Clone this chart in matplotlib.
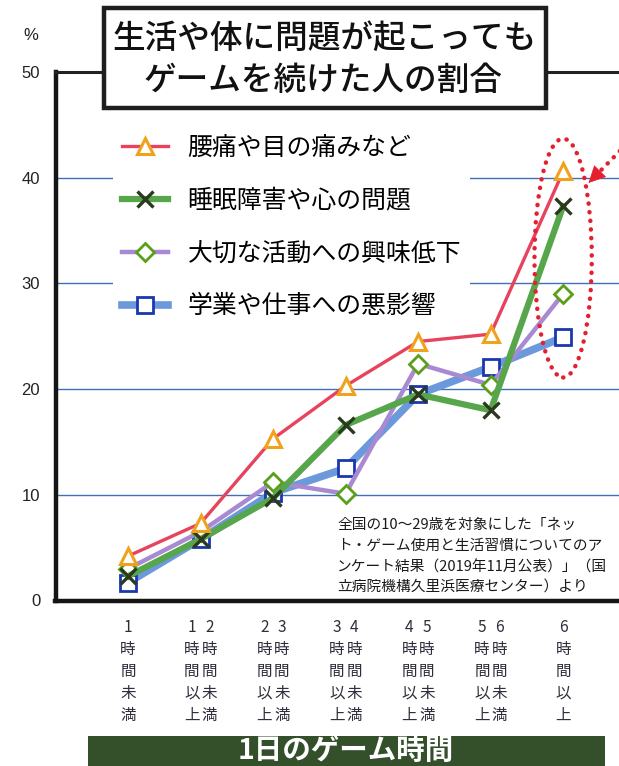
import matplotlib
matplotlib.use("Agg")
import matplotlib.pyplot as plt
from matplotlib.patches import Rectangle, Ellipse
from matplotlib.transforms import blended_transform_factory
import numpy as np

plt.rcParams['font.family'] = ['Noto Sans CJK JP', 'DejaVu Sans']

# ---------------- data ----------------
categories = ['1時間未満', '1-2時間', '2-3時間', '3-4時間', '4-5時間', '5-6時間', '6時間以上']
tick_columns = [
    ['1時間未満'],
    ['1時間以上', '2時間未満'],
    ['2時間以上', '3時間未満'],
    ['3時間以上', '4時間未満'],
    ['4時間以上', '5時間未満'],
    ['5時間以上', '6時間未満'],
    ['6時間以上'],
]
series_names = ['腰痛や目の痛みなど', '睡眠障害や心の問題', '大切な活動への興味低下', '学業や仕事への悪影響']
back_eye = [4.2, 7.3, 15.3, 20.3, 24.5, 25.2, 40.6]
sleep_mind = [2.3, 5.8, 9.7, 16.6, 19.5, 18.0, 37.3]
interest = [3.0, 6.5, 11.2, 10.1, 22.4, 20.4, 29.0]
work_study = [1.7, 5.8, 10.2, 12.5, 19.5, 22.1, 24.9]
y_ticks = [0, 10, 20, 30, 40, 50]

title_lines = ['生活や体に問題が起こっても', 'ゲームを続けた人の割合']
x_title = '1日のゲーム時間'
source_lines = ['全国の10～29歳を対象にした「ネッ',
                'ト・ゲーム使用と生活習慣についてのア',
                'ンケート結果（2019年11月公表）」（国',
                '立病院機構久里浜医療センター）より']

# ---------------- figure ----------------
W, H = 619, 766
fig = plt.figure(figsize=(W / 100, H / 100), dpi=100)
fig.patch.set_facecolor('white')

def fx(px):
    return px / W

def fy(py):
    return 1 - py / H

ax_left, ax_right, ax_top, ax_bot = 55.5, 640, 72, 600.5
ax = fig.add_axes([fx(ax_left), fy(ax_bot), fx(ax_right - ax_left), (ax_bot - ax_top) / H])
x = np.arange(len(categories))
ax.set_xlim(-1.0, 7.06)
ax.set_ylim(0, 50)

ax.set_yticks(y_ticks)
ax.set_yticklabels([str(v) for v in y_ticks], fontsize=12, color='#222222',
                   family=['Liberation Sans'])
ax.tick_params(axis='y', length=0, pad=11)
ax.set_xticks([])
ax.yaxis.grid(True, color='#3f70b8', lw=1.0)
ax.set_axisbelow(True)
for gl, v in zip(ax.yaxis.get_gridlines(), y_ticks):
    if v in (0, 50):
        gl.set_visible(False)

for s in ['left', 'bottom']:
    ax.spines[s].set_linewidth(3.2)
    ax.spines[s].set_color('#151515')
ax.spines['top'].set_linewidth(2.2)
ax.spines['top'].set_color('#222222')
ax.spines['right'].set_visible(False)

# series
l_work, = ax.plot(x, work_study, color='#6c98dc', lw=5.5, marker='s', ms=11,
                  mfc='white', mec='#1a37b0', mew=2.0, zorder=3, label=series_names[3])
l_int, = ax.plot(x, interest, color='#a98ad2', lw=3.2, marker='D', ms=9,
                 mfc='white', mec='#5a9e1a', mew=2.0, zorder=4, label=series_names[2])
l_sleep, = ax.plot(x, sleep_mind, color='#58a64c', lw=4.5, marker='x', ms=11,
                   mec='#2b3a1f', mew=2.4, zorder=5, label=series_names[1])
l_back, = ax.plot(x, back_eye, color='#e8435c', lw=2.4, marker='^', ms=12,
                  mfc='white', mec='#f0a21c', mew=2.2, zorder=6, label=series_names[0])

leg = ax.legend(handles=[l_back, l_sleep, l_int, l_work], loc='upper left',
                bbox_to_anchor=(fx(113), fy(126)), bbox_transform=fig.transFigure,
                fontsize=17.9, handlelength=1.85, handletextpad=0.8, labelspacing=1.08,
                borderpad=0.35, borderaxespad=0, numpoints=1, frameon=True,
                fancybox=False, framealpha=1)
leg.get_frame().set_facecolor('white')
leg.get_frame().set_edgecolor('none')
leg.set_zorder(10)

# highlight ellipse + arrow
red = '#e4202f'
ell = Ellipse((6.0, 32.4), width=0.79, height=22.6, fill=False, edgecolor=red,
              lw=3.2, linestyle=(0, (0.05, 1.9)), zorder=7, clip_on=False)
ell.set_capstyle('round')
ax.add_patch(ell)
ax.annotate('', xy=(6.35, 39.5), xytext=(6.95, 43.7),
            arrowprops=dict(arrowstyle='-', color=red, lw=3.2, linestyle=(0, (0.05, 1.9)),
                            capstyle='round', shrinkA=0, shrinkB=8),
            annotation_clip=False, zorder=7)
ax.annotate('', xy=(6.35, 39.5), xytext=(6.55, 40.9),
            arrowprops=dict(arrowstyle='-|>', color=red, lw=0.5, mutation_scale=28,
                            shrinkA=0, shrinkB=0),
            annotation_clip=False, zorder=7)

# x tick labels (vertical columns)
trans = blended_transform_factory(ax.transData, fig.transFigure)
col_off = 0.12
for xi, cols in zip(x, tick_columns):
    if len(cols) == 1:
        offs = [0]
    else:
        offs = [-col_off, col_off]
    for o, col in zip(offs, cols):
        ax.text(xi + o, fy(619), '\n'.join(list(col)), transform=trans, ha='center',
                va='top', multialignment='center', fontsize=11.2, color='#2e2e3c',
                linespacing=1.38, clip_on=False)

# y unit
fig.text(fx(31), fy(35), '%', fontsize=12, ha='center', va='center', color='#222222',
         family=['Liberation Sans'])

# title box
fig.add_artist(Rectangle((fx(104), fy(108)), fx(546 - 104), (108 - 8) / H,
                         transform=fig.transFigure, facecolor='white',
                         edgecolor='#1e1e1e', lw=3.2, zorder=20))
fig.text(fx(325), fy(38), title_lines[0], fontsize=23.5, ha='center', va='center',
         color='#111111', weight='medium', zorder=21)
fig.text(fx(323), fy(80), title_lines[1], fontsize=23.5, ha='center', va='center',
         color='#111111', weight='medium', zorder=21)

# source note
for i, line in enumerate(source_lines):
    fig.text(fx(337), fy(525 + 21 * i), line, fontsize=10.6, ha='left', va='center',
             color='#1a1a1a', zorder=21)

# bottom bar
fig.add_artist(Rectangle((fx(88), 0), fx(605 - 88), (766 - 736) / H,
                         transform=fig.transFigure, facecolor='#33502a',
                         edgecolor='none', zorder=20))
fig.text(fx(346), fy(751), x_title, fontsize=20.5, ha='center', va='center',
         color='white', weight='bold', zorder=21)

fig.savefig('out.png', dpi=100)
